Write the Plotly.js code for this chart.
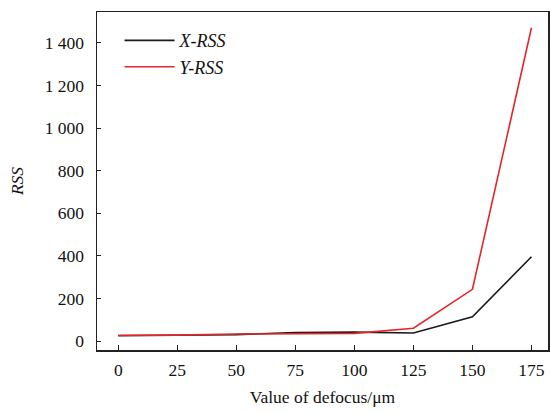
<!DOCTYPE html>
<html><head><meta charset="utf-8">
<script src="https://cdn.plot.ly/plotly-3.0.1.min.js"></script>
<style>html,body{margin:0;padding:0;background:#fff}#c{width:550px;height:413px}</style>
</head><body><div id="c"></div>
<script>
var defocus = [0, 25, 50, 75, 100, 125, 150, 175];
var xRSS = [25, 28, 30, 40, 42, 38, 114, 396];
var yRSS = [27, 28, 33, 34, 36, 60, 243, 1471];
var yTickVals = [0, 200, 400, 600, 800, 1000, 1200, 1400];
var yTickText = ['0', '200', '400', '600', '800', '1 000', '1 200', '1 400'];

var traces = [
  {x: defocus, y: xRSS, mode: 'lines', name: '<i>X-RSS</i>', line: {color: '#1a1a1a', width: 1.6}},
  {x: defocus, y: yRSS, mode: 'lines', name: '<i>Y-RSS</i>', line: {color: '#e0282b', width: 1.6}}
];
var fam = '"Liberation Serif", "Times New Roman", serif';
var font = {family: fam, size: 17.5, color: '#111'};
var layout = {
  width: 550, height: 413,
  margin: {l: 97, r: 2, t: 12, b: 63},
  paper_bgcolor: '#fff', plot_bgcolor: '#fff',
  font: font,
  showlegend: true,
  legend: {x: 0.05, y: 0.97, xanchor: 'left', yanchor: 'top', bgcolor: 'rgba(0,0,0,0)', font: {family: fam, size: 18, color: '#111'}, itemwidth: 50},
  xaxis: {
    range: [-9, 182], tickvals: defocus, ticks: 'inside', ticklen: 5, tickcolor: '#222',
    showline: true, linecolor: '#222', linewidth: 1.5, mirror: true, showgrid: false, zeroline: false,
    ticklabelstandoff: 3,
    title: {text: 'Value of defocus/μm', font: {family: fam, size: 17.5}, standoff: 12}
  },
  yaxis: {
    range: [-42, 1545], tickvals: yTickVals, ticktext: yTickText, ticks: 'inside', ticklen: 4, tickcolor: '#222',
    showline: true, linecolor: '#222', linewidth: 1.5, mirror: true, showgrid: false, zeroline: false,
    ticklabelstandoff: 8,
    title: {text: '<i>RSS</i>', font: {family: fam, size: 17.5}, standoff: 16}
  }
};
Plotly.newPlot('c', traces, layout, {displayModeBar: false, staticPlot: true});
</script></body></html>
